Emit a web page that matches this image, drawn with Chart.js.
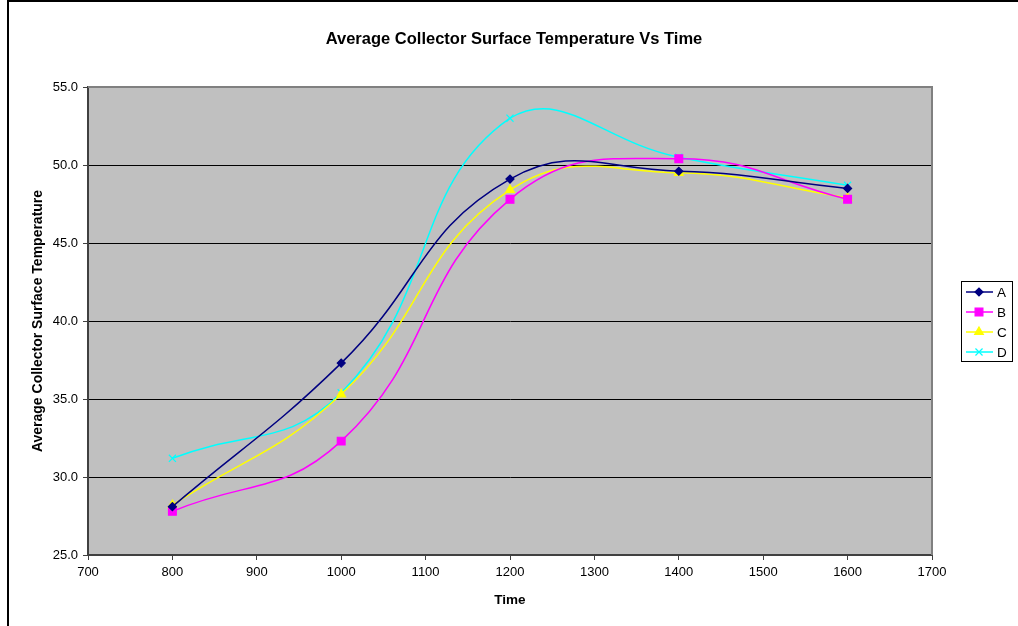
<!DOCTYPE html>
<html>
<head>
<meta charset="utf-8">
<script src="https://cdn.jsdelivr.net/npm/chart.js@4.4.1/dist/chart.umd.min.js"></script>
<style>
html,body{margin:0;padding:0;background:#ffffff;}
#wrap{width:1018px;height:626px;position:relative;}
</style>
</head>
<body>
<div id="wrap"><canvas id="c" width="1018" height="626"></canvas></div>
<script>
// ---- data ----
const times = [800, 1000, 1200, 1400, 1600];
const seriesA = [28.1, 37.3, 49.1, 49.6, 48.5];
const seriesB = [27.8, 32.3, 47.8, 50.4, 47.8];
const seriesC = [28.2, 35.3, 48.4, 49.5, 47.9];
const seriesD = [31.2, 35.4, 53.0, 50.5, 48.7];
const seriesNames = ['A', 'B', 'C', 'D'];
const xAxisMin = 700, xAxisMax = 1700, xAxisStep = 100;
const yAxisMin = 25, yAxisMax = 55, yAxisStep = 5;
const chartTitle = 'Average Collector Surface Temperature Vs Time';
const xTitle = 'Time';
const yTitle = 'Average Collector Surface Temperature';

const FONT = "'Liberation Sans', Arial, sans-serif";
const colors = ['#000080', '#FF00FF', '#FFFF00', '#00FFFF'];
const styles = ['rectRot', 'rect', 'triangle', 'crossRot'];
const radii = [4, 5.5, 5, 5];

function pts(vals) { return times.map((t, i) => ({x: t, y: vals[i]})); }
const allSeries = [seriesA, seriesB, seriesC, seriesD];

const datasets = allSeries.map((vals, i) => ({
  label: seriesNames[i],
  data: pts(vals),
  xAxisID: 'x',
  yAxisID: 'y',
  borderColor: colors[i],
  backgroundColor: colors[i],
  pointBackgroundColor: colors[i],
  pointBorderColor: colors[i],
  pointStyle: styles[i],
  pointRadius: radii[i],
  pointBorderWidth: 1.2,
  borderWidth: 1.5,
  tension: 0.45,
  fill: false
}));

const bgPlugin = {
  id: 'bg',
  beforeDraw(chart) {
    const ctx = chart.ctx, a = chart.chartArea;
    ctx.save();
    ctx.fillStyle = '#ffffff';
    ctx.fillRect(0, 0, chart.width, chart.height);
    ctx.fillStyle = '#C0C0C0';
    ctx.fillRect(a.left, a.top, a.right - a.left, a.bottom - a.top);
    ctx.restore();
  },
  beforeDatasetsDraw(chart) {
    const ctx = chart.ctx, a = chart.chartArea;
    ctx.save();
    ctx.strokeStyle = '#808080';
    ctx.lineWidth = 2;
    ctx.beginPath();
    ctx.moveTo(a.left, a.top);
    ctx.lineTo(a.right, a.top);
    ctx.lineTo(a.right, a.bottom);
    ctx.stroke();
    ctx.restore();
  },
  afterDraw(chart) {
    const ctx = chart.ctx;
    ctx.save();
    // outer chart border (top & left visible)
    ctx.fillStyle = '#000000';
    ctx.fillRect(7, 0, 2, chart.height);
    ctx.fillRect(7, 0, chart.width - 7, 2);
    // legend
    const bx = 961, by = 281, bw = 51, bh = 80;
    ctx.fillStyle = '#ffffff';
    ctx.fillRect(bx, by, bw, bh);
    ctx.strokeStyle = '#000000';
    ctx.lineWidth = 1;
    ctx.strokeRect(bx + 0.5, by + 0.5, bw, bh);
    chart.data.datasets.forEach((ds, i) => {
      const y = 292 + 20 * i;
      ctx.strokeStyle = ds.borderColor;
      ctx.lineWidth = 1.5;
      ctx.beginPath();
      ctx.moveTo(966, y);
      ctx.lineTo(993, y);
      ctx.stroke();
      if (Chart.helpers && Chart.helpers.drawPoint) {
        ctx.fillStyle = ds.pointBackgroundColor;
        ctx.strokeStyle = ds.pointBorderColor;
        ctx.lineWidth = 1.2;
        Chart.helpers.drawPoint(ctx, {pointStyle: ds.pointStyle, radius: ds.pointRadius, rotation: 0, borderWidth: 1.2}, 979, y);
      }
      ctx.fillStyle = '#000000';
      ctx.font = '13.5px ' + FONT;
      ctx.textBaseline = 'middle';
      ctx.textAlign = 'left';
      ctx.fillText(ds.label, 997, y + 1);
    });
    ctx.restore();
  }
};

new Chart(document.getElementById('c'), {
  type: 'line',
  data: { datasets },
  options: {
    responsive: false,
    animation: false,
    devicePixelRatio: 1,
    layout: { padding: { left: 10, right: 0, top: 0, bottom: 0 } },
    plugins: {
      legend: { display: false },
      tooltip: { enabled: false },
      title: {
        display: true,
        text: chartTitle,
        color: '#000000',
        font: { family: FONT, size: 16.5, weight: 'bold', lineHeight: 1.2 },
        padding: { top: 30, bottom: 37.2 }
      }
    },
    scales: {
      x: {
        type: 'linear',
        min: xAxisMin, max: xAxisMax,
        ticks: { stepSize: xAxisStep, color: '#000000', font: { family: FONT, size: 13 }, padding: 5, maxRotation: 0, callback: v => String(v) },
        grid: { drawOnChartArea: false, drawTicks: true, tickLength: 5, tickColor: '#404040' },
        border: { color: '#404040', width: 2 },
        title: { display: true, text: xTitle, color: '#000000', font: { family: FONT, size: 13.5, weight: 'bold' }, padding: { top: 4, bottom: 18 } },
        afterFit(scale) { scale.height = 71; }
      },
      y: {
        type: 'linear',
        position: 'left',
        min: yAxisMin, max: yAxisMax,
        ticks: { stepSize: yAxisStep, color: '#000000', font: { family: FONT, size: 13 }, padding: 5, callback: v => Number(v).toFixed(1) },
        grid: { color: '#000000', lineWidth: 1, drawTicks: true, tickLength: 5, tickColor: '#404040' },
        border: { color: '#404040', width: 2 },
        title: { display: true, text: yTitle, color: '#000000', font: { family: FONT, size: 14, weight: 'bold' }, padding: { top: 20, bottom: 4 } },
        afterFit(scale) { scale.width = 78; }
      },
      yRight: {
        type: 'linear',
        position: 'right',
        axis: 'y',
        min: yAxisMin, max: yAxisMax,
        display: true,
        ticks: { display: false },
        grid: { display: false, drawOnChartArea: false },
        border: { display: false },
        title: { display: false },
        afterFit(scale) { scale.width = 86; }
      }
    }
  },
  plugins: [bgPlugin]
});
</script>
</body>
</html>
